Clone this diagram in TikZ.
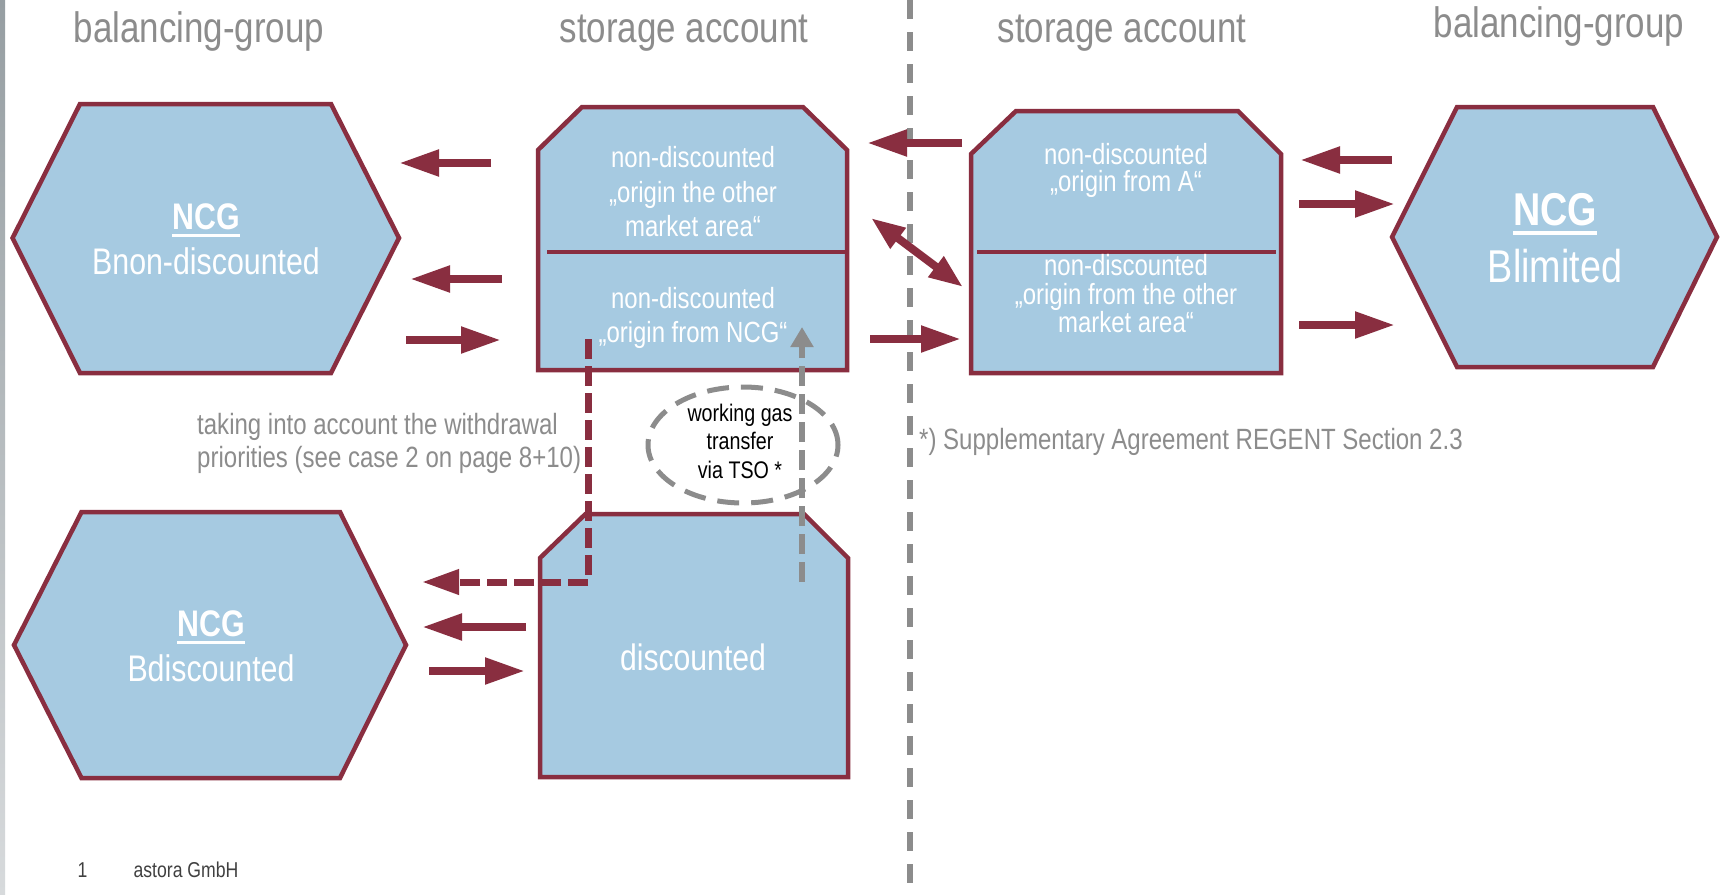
\documentclass[tikz,border=0pt]{standalone}
\usepackage{fontspec}
\setmainfont{Liberation Sans}[FakeStretch=0.82]
\usepackage{tikz}
\usetikzlibrary{arrows.meta,positioning,calc,shapes.geometric}
\definecolor{wine}{RGB}{137,46,64}
\definecolor{paleblue}{RGB}{166,202,225}
\definecolor{midgray}{RGB}{140,140,140}
\definecolor{footgray}{RGB}{64,64,64}
\definecolor{bartop}{RGB}{150,158,162}
\definecolor{barmid}{RGB}{110,122,128}
\definecolor{barbot}{RGB}{215,218,220}
\newcommand\Ul[1]{\setbox0\hbox{#1}\rlap{\rule[-0.2em]{\wd0}{0.075em}}\box0}

\begin{document}
\begin{tikzpicture}[x=1pt, y=-1pt,
    shapebox/.style={draw=wine, line width=4.5pt, fill=paleblue, line join=miter},
    whitetext/.style={text=white, align=center, inner sep=0pt},
    headline/.style={text=midgray, inner sep=0pt, anchor=base, font=\fontsize{42.6}{50}\selectfont},
    graytext/.style={text=midgray, inner sep=0pt, font=\fontsize{29.3}{33}\selectfont},
    flow/.style={draw=wine, line width=8pt, -{Triangle[length=40pt,width=25pt]}},
    flowdash/.style={draw=wine, line width=7pt, dash pattern=on 20pt off 7pt, -{Triangle[length=37pt,width=24pt]}},
    tsoflow/.style={draw=midgray, line width=5.5pt, dash pattern=on 20pt off 8pt, -{Triangle[length=20pt,width=22pt]}},
    splitline/.style={draw=midgray, line width=6pt, dash pattern=on 19pt off 13pt}]
      \useasboundingbox[fill=white] (0,0) rectangle (1729,894);
      \shade[top color=bartop, middle color=barmid, bottom color=barbot] (0,0) rectangle (5,894);

      % divider between the two market areas
      \coordinate (splitTop) at (910,0);
      \coordinate (splitBot) at (910,894);
      \draw[splitline] (splitTop) -- (splitBot);

      % headlines
      \node[headline] (bgLeft) at (199,42) {balancing-group};
      \node[headline] (saLeft) at (684,42) {storage account};
      \node[headline] (saRight) at (1122,42) {storage account};
      \node[headline] (bgRight) at (1559,37) {balancing-group};

      % balancing groups
      \path[shapebox] (12.6,238) -- (80,104) -- (331,104) -- (399,238) -- (331,373) -- (80,373) -- cycle;
      \path[shapebox] (14,645) -- (81.5,512) -- (340,512) -- (406,645) -- (340,778) -- (81.5,778) -- cycle;
      \path[shapebox] (1392,237) -- (1457,107) -- (1653,107) -- (1717,237) -- (1653,367) -- (1457,367) -- cycle;
      \node[whitetext, font=\fontsize{37}{45}\selectfont] (bgNon) at (206,239) {\Ul{\textbf{NCG}}\\Bnon-discounted};
      \node[whitetext, font=\fontsize{37}{45}\selectfont] (bgDisc) at (211,646) {\Ul{\textbf{NCG}}\\Bdiscounted};
      \node[whitetext, font=\fontsize{46}{57}\selectfont] (bgLim) at (1555,238) {\Ul{\textbf{NCG}}\\Blimited};

      % storage accounts
      \path[shapebox] (538,370) -- (538,150) -- (582,107) -- (803,107) -- (847,150) -- (847,370) -- cycle;
      \draw[wine, line width=4.5pt] (547,252) -- (847,252);
      \path[shapebox] (971,373) -- (971,154) -- (1016,111) -- (1238,111) -- (1281,154) -- (1281,373) -- cycle;
      \draw[wine, line width=4.5pt] (977,252) -- (1276,252);
      \path[shapebox] (540,777) -- (540,558) -- (585.5,514) -- (804,514) -- (848,558) -- (848,777) -- cycle;
      \node[whitetext, font=\fontsize{29.2}{34.5}\selectfont] (saOther) at (693,192) {non-discounted\\„origin the other\\market area“};
      \node[whitetext, font=\fontsize{29.2}{34}\selectfont] (saNcg) at (693,318) {non-discounted\\„origin from NCG“};
      \node[whitetext, font=\fontsize{29.2}{27}\selectfont] (saFromA) at (1126,170) {non-discounted\\„origin from A“};
      \node[whitetext, font=\fontsize{29.2}{28.5}\selectfont] (saFromOther) at (1126,294) {non-discounted\\„origin from the other\\market area“};
      \node[whitetext, font=\fontsize{36.8}{44}\selectfont] (saDisc) at (693,657.5) {discounted};

      % working gas transfer
      \node[draw=midgray, line width=5pt, dash pattern=on 22pt off 12pt, ellipse, minimum width=190pt, minimum height=116pt] (tsoRing) at (743,445) {};
      \node[align=center, inner sep=0pt, font=\fontsize{24}{28.5}\selectfont] (tsoText) at (740,441) {working gas\\transfer\\via TSO *};

      % notes
      \node[graytext, anchor=west, align=left] (priority) at (197,443) {taking into account the withdrawal\\priorities (see case 2 on page 8+10)};
      \node[graytext, anchor=base west] (regent) at (919,449) {*) Supplementary Agreement REGENT Section 2.3};
      \node[anchor=base west, inner sep=0pt, text=footgray, font=\fontsize{21.5}{26}\selectfont] (pageNo) at (77.5,877) {1};
      \node[base right=45.7pt of pageNo, inner sep=0pt, text=footgray, font=\fontsize{21.5}{26}\selectfont] (company) {astora GmbH};

      % flow ends
      \coordinate (outNonAs) at (491,163);   \coordinate (outNonAe) at (399,163);
      \coordinate (outNonBs) at (502,279);   \coordinate (outNonBe) at (410,279);
      \coordinate (inNons) at (406,340);     \coordinate (inNone) at (501,340);
      \coordinate (fromOthers) at (962,143); \coordinate (fromOthere) at (867,143);
      \coordinate (swaps) at (871,218);      \coordinate (swape) at (963,287);
      \coordinate (toOthers) at (870,339);   \coordinate (toOthere) at (961,339);
      \coordinate (outLims) at (1392,160);   \coordinate (outLime) at (1300,160);
      \coordinate (inLimAs) at (1299,204);   \coordinate (inLimAe) at (1395,204);
      \coordinate (inLimBs) at (1299,325);   \coordinate (inLimBe) at (1395,325);
      \coordinate (outDiscs) at (526,627);   \coordinate (outDisce) at (422,627);
      \coordinate (inDiscs) at (429,671);    \coordinate (inDisce) at (525,671);
      \coordinate (withdraws) at (588,339);  \coordinate (withdrawe) at (422,582);
      \coordinate (tsos) at (802,582);       \coordinate (tsoe) at (802,327);

      \draw[flow] (outNonAs) -- (outNonAe);
      \draw[flow] (outNonBs) -- (outNonBe);
      \draw[flow] (inNons) -- (inNone);
      \draw[flow] (fromOthers) -- (fromOthere);
      \draw[flow, {Triangle[length=34pt,width=24pt]}-{Triangle[length=34pt,width=24pt]}] (swaps) -- (swape);
      \draw[flow] (toOthers) -- (toOthere);
      \draw[flow] (outLims) -- (outLime);
      \draw[flow] (inLimAs) -- (inLimAe);
      \draw[flow] (inLimBs) -- (inLimBe);
      \draw[flow] (outDiscs) -- (outDisce);
      \draw[flow] (inDiscs) -- (inDisce);
      \draw[flowdash] (withdraws) |- (withdrawe);
      \draw[tsoflow] (tsos) -- (tsoe);
    \end{tikzpicture}
\end{document}
